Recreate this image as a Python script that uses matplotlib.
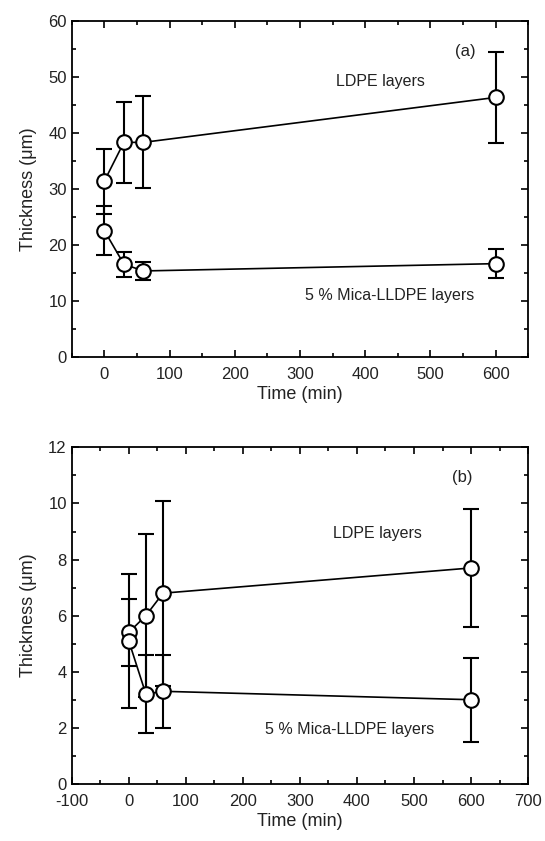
import matplotlib
matplotlib.use("Agg")
import matplotlib.pyplot as plt
from matplotlib.ticker import MultipleLocator

plt.rcParams['font.family'] = ['Liberation Sans', 'DejaVu Sans']
plt.rcParams['axes.unicode_minus'] = False

time = [0, 30, 60, 600]

# Panel (a)
ldpe_a = [31.4, 38.3, 38.3, 46.3]
ldpe_a_err = [5.8, 7.2, 8.2, 8.1]
mica_a = [22.6, 16.6, 15.4, 16.7]
mica_a_err = [4.4, 2.2, 1.6, 2.6]

# Panel (b)
ldpe_b = [5.4, 6.0, 6.8, 7.7]
ldpe_b_err = [1.2, 2.9, 3.3, 2.1]
mica_b = [5.1, 3.2, 3.3, 3.0]
mica_b_err = [2.4, 1.4, 1.3, 1.5]

label_ldpe = "LDPE layers"
label_mica = "5 % Mica-LLDPE layers"

fig = plt.figure(figsize=(5.45, 8.41), dpi=100)
ax_a = fig.add_axes([0.1316, 0.575, 0.8374, 0.4006])
ax_b = fig.add_axes([0.1316, 0.068, 0.8374, 0.400])

def series(ax, y, e):
    ax.errorbar(time, y, yerr=e, fmt='-o', color='black', lw=1.2,
                elinewidth=1.5, capsize=5.5, capthick=1.5,
                markersize=10.5, markerfacecolor='white',
                markeredgecolor='black', markeredgewidth=1.5, zorder=3)

def style(ax):
    ax.tick_params(which='both', direction='in', top=True, right=True,
                   labelsize=12, width=1.2, labelcolor='#222222')
    ax.tick_params(which='major', length=5)
    ax.tick_params(axis='x', which='major', pad=7)
    ax.tick_params(which='minor', length=3)
    for s in ax.spines.values():
        s.set_linewidth(1.3)
    ax.set_xlabel("Time (min)", fontsize=13, color='#222222', labelpad=3)
    ax.set_ylabel("Thickness (μm)", fontsize=13, color='#222222', labelpad=8)

# (a)
series(ax_a, ldpe_a, ldpe_a_err)
series(ax_a, mica_a, mica_a_err)
ax_a.set_xlim(-50, 650)
ax_a.set_ylim(0, 60)
ax_a.xaxis.set_major_locator(MultipleLocator(100))
ax_a.xaxis.set_minor_locator(MultipleLocator(50))
ax_a.yaxis.set_major_locator(MultipleLocator(10))
ax_a.yaxis.set_minor_locator(MultipleLocator(5))
style(ax_a)
ax_a.text(424, 49.1, label_ldpe, ha='center', va='center', fontsize=11.5, color='#222222')
ax_a.text(438, 11.0, label_mica, ha='center', va='center', fontsize=11.5, color='#222222')
ax_a.text(553, 54.4, "(a)", ha='center', va='center', fontsize=12, color='#222222')

# (b)
series(ax_b, ldpe_b, ldpe_b_err)
series(ax_b, mica_b, mica_b_err)
ax_b.set_xlim(-100, 700)
ax_b.set_ylim(0, 12)
ax_b.xaxis.set_major_locator(MultipleLocator(100))
ax_b.xaxis.set_minor_locator(MultipleLocator(50))
ax_b.yaxis.set_major_locator(MultipleLocator(2))
ax_b.yaxis.set_minor_locator(MultipleLocator(1))
style(ax_b)
ax_b.text(436, 8.94, label_ldpe, ha='center', va='center', fontsize=11.5, color='#222222')
ax_b.text(387, 1.95, label_mica, ha='center', va='center', fontsize=11.5, color='#222222')
ax_b.text(585, 10.94, "(b)", ha='center', va='center', fontsize=12, color='#222222')

fig.savefig("out.png", dpi=100, facecolor='white')
